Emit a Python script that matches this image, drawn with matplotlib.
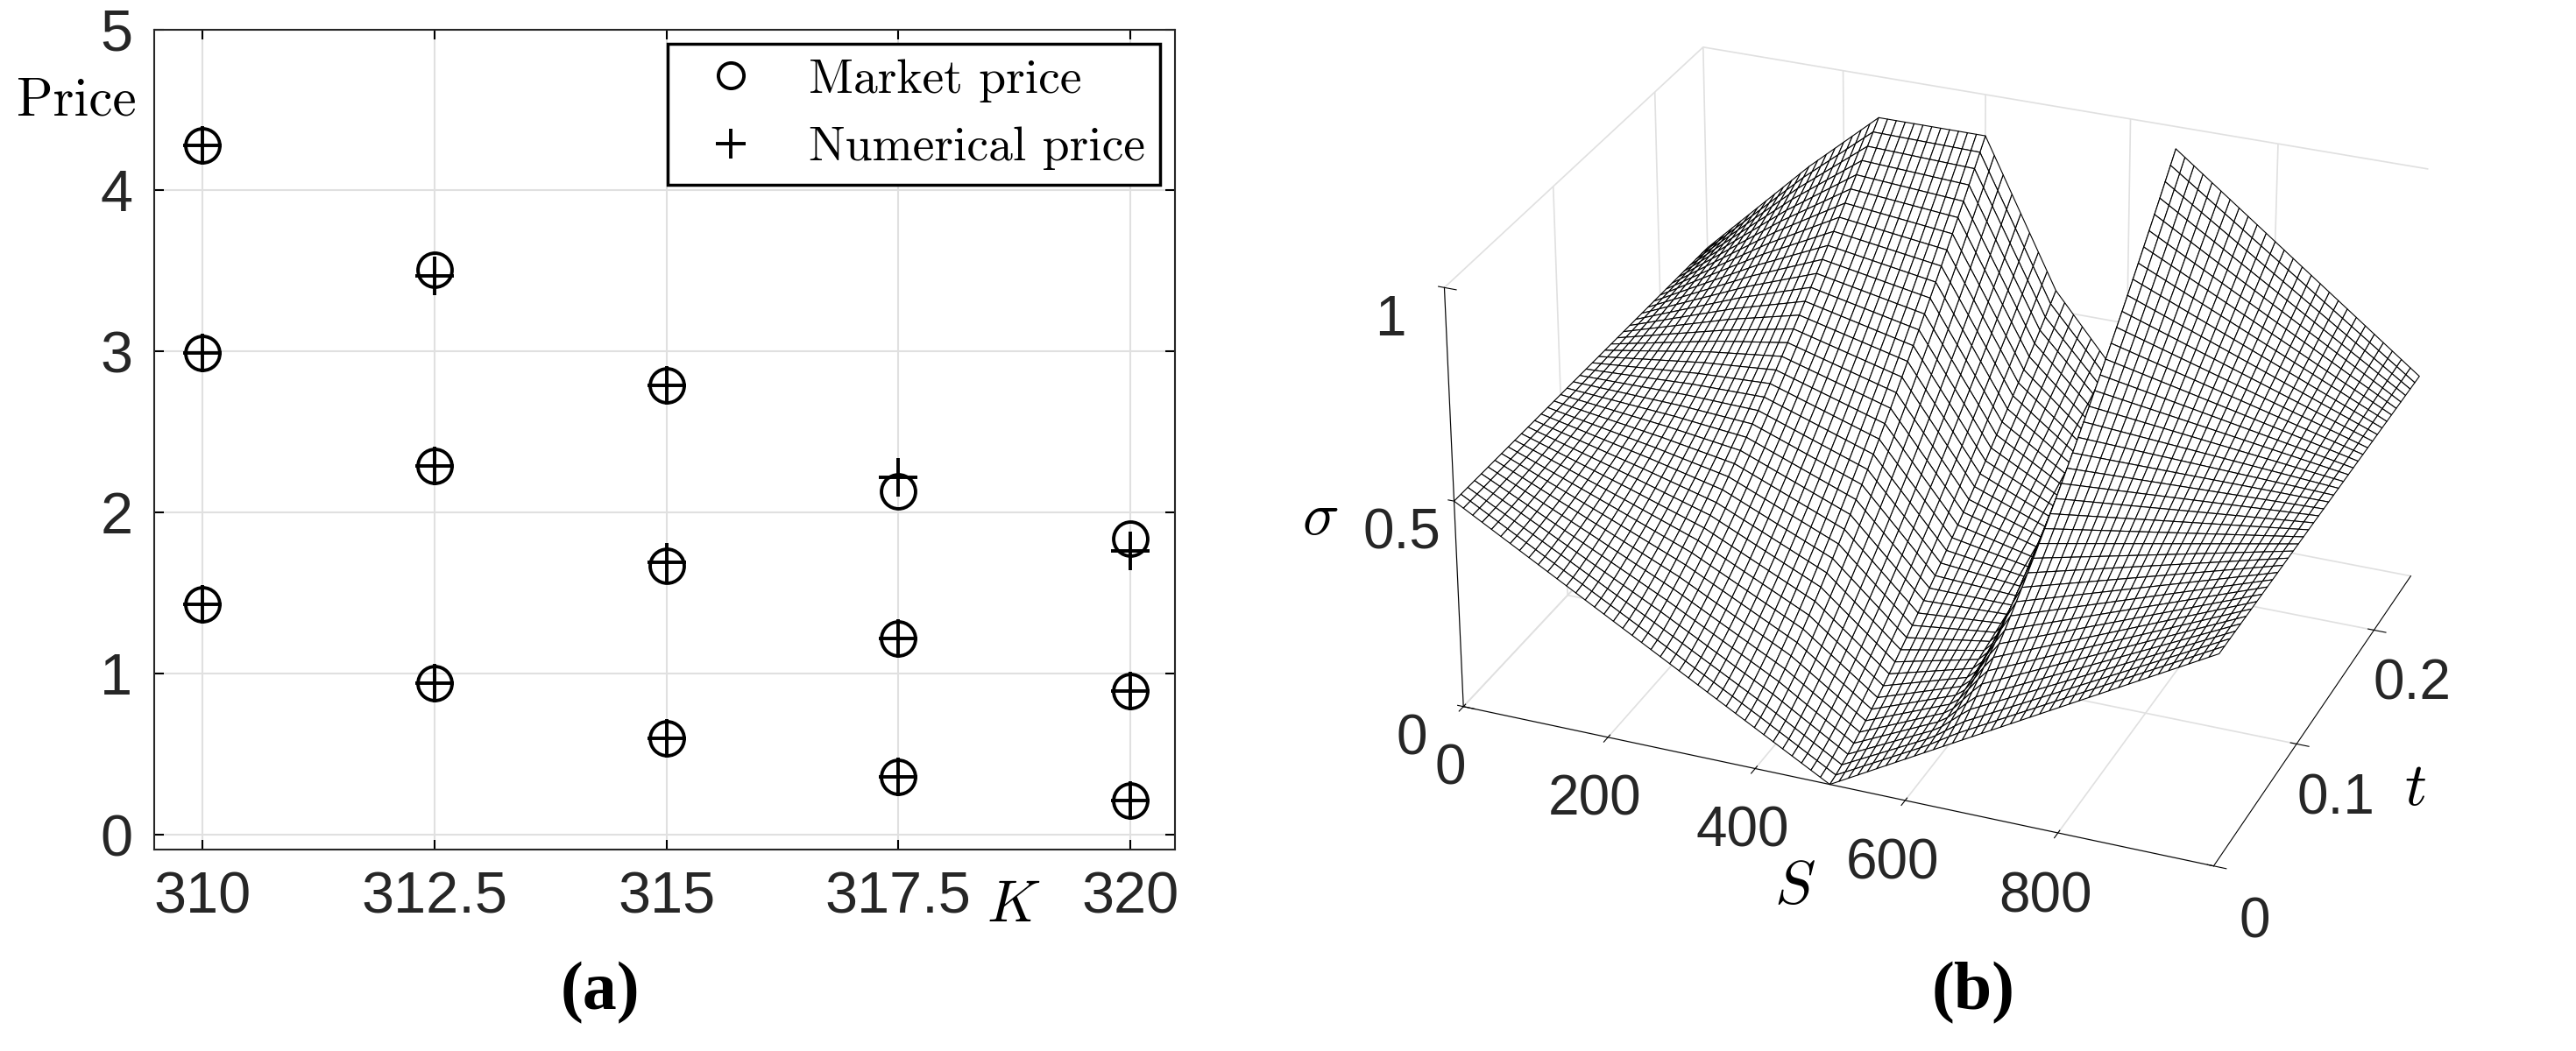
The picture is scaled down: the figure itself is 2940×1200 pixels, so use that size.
import numpy as np
import matplotlib.pyplot as plt
from mpl_toolkits.mplot3d import Axes3D

plt.rcParams['mathtext.fontset'] = 'cm'
plt.rcParams['font.family'] = ['Liberation Sans', 'DejaVu Sans']

# strikes and prices
K = [310, 312.5, 315, 317.5, 320]
market = [[4.28, 2.99, 1.43], [3.51, 2.29, 0.94], [2.79, 1.67, 0.60],
          [2.13, 1.22, 0.36], [1.84, 0.89, 0.21]]
numerical = [[4.28, 2.99, 1.43], [3.47, 2.29, 0.94], [2.79, 1.69, 0.60],
             [2.22, 1.22, 0.36], [1.76, 0.89, 0.21]]

# volatility profile knots for panel (b): front edge (t=0) and back edge (t=T)
S_knots = [0, 150, 250, 400, 500, 620, 660, 1000]
sig_front = [0.5, 0.35, 0.25, 0.1, 0.0, 0.12, 0.16, 0.5]
sig_back = [0.5, 0.75, 0.9, 0.9, 0.55, 0.3, 0.95, 0.5]
T = 0.25

fig = plt.figure(figsize=(29.4, 12), dpi=100)

ax = fig.add_axes([0.060, 0.192, 0.396, 0.780])
xs, ym, yn = [], [], []
for k, m, n in zip(K, market, numerical):
    for a, b in zip(m, n):
        xs.append(k); ym.append(a); yn.append(b)
ax.plot(xs, ym, 'o', ms=28, mfc='none', mec='k', mew=2.8, ls='none', label='Market price')
ax.plot(xs, yn, '+', ms=32, mec='k', mew=2.8, ls='none', label='Numerical price')
ax.set_xlim(309.48, 320.48)
ax.set_ylim(-0.09, 5)
ax.set_xticks(K)
ax.set_xticklabels(['310', '312.5', '315', '317.5', '320'])
ax.set_yticks([0, 1, 2, 3, 4, 5])
ax.tick_params(labelsize=48, direction='in', length=8, width=1.5, pad=18, top=True, right=True,
               labelcolor='#262626')
ax.grid(True, color='#e0e0e0', lw=1.5)
for sp in ax.spines.values():
    sp.set_linewidth(1.5)
    sp.set_color('#262626')
ax.text(-0.135, 0.895, 'Price', transform=ax.transAxes, fontsize=44, family='cmr10')
ax.text(0.842, -0.07, '$K$', transform=ax.transAxes, fontsize=48, ha='center', va='center')
leg = ax.legend(loc='upper right', prop={'family': 'cmr10', 'size': 40}, fancybox=False,
                edgecolor='k', framealpha=1, handletextpad=0.6, borderpad=0.3, markerscale=0.75,
                borderaxespad=0.3)
leg.get_frame().set_linewidth(2.5)
fig.text(0.233, 0.055, '(a)', fontsize=56, weight='bold', family='Liberation Serif', ha='center', va='center')

# panel (b)
S = np.linspace(0, 1000, 81)
t = np.linspace(0, T, 41)
SS, TT = np.meshgrid(S, t)
front = np.interp(S, S_knots, sig_front)
back = np.interp(S, S_knots, sig_back)
w = np.clip(t / T, 0, 1) ** 1.3
Z = (1 - w[:, None]) * front[None, :] + w[:, None] * back[None, :]

ax3 = fig.add_axes([0.50, 0.06, 0.50, 1.02], projection='3d')
ax3.plot_surface(SS, TT, Z, color='white', edgecolor='k', linewidth=0.8, rstride=1, cstride=1,
                 shade=False, antialiased=True)
ax3.view_init(elev=28, azim=-68)
ax3.set_box_aspect((1.7, 1.3, 1.0), zoom=1.0)
ax3.set_xlim(0, 1000)
ax3.set_ylim(0, T)
ax3.set_zlim(0, 1)
ax3.set_xticks([0, 200, 400, 600, 800])
ax3.set_yticks([0, 0.1, 0.2])
ax3.set_yticklabels(['0', '0.1', '0.2'])
ax3.set_zticks([0, 0.5, 1])
ax3.set_zticklabels(['0', '0.5', '1'])
ax3.zaxis._axinfo['juggled'] = (1, 2, 0)
ax3.tick_params(labelsize=46, pad=16, labelcolor='#262626')
for a in (ax3.xaxis, ax3.yaxis, ax3.zaxis):
    a.set_pane_color((1, 1, 1, 0))
    a._axinfo['grid']['color'] = '#e0e0e0'
    a._axinfo['grid']['linewidth'] = 1.2
ax3.zaxis.set_rotate_label(False)
ax3.set_xlabel('$S$', fontsize=50, labelpad=45)
ax3.set_ylabel('$t$', fontsize=50, labelpad=40)
ax3.set_zlabel('$\\sigma$', fontsize=50, labelpad=40, rotation=0)
fig.text(0.766, 0.055, '(b)', fontsize=56, weight='bold', family='Liberation Serif', ha='center', va='center')

fig.savefig('out.png', dpi=100)
